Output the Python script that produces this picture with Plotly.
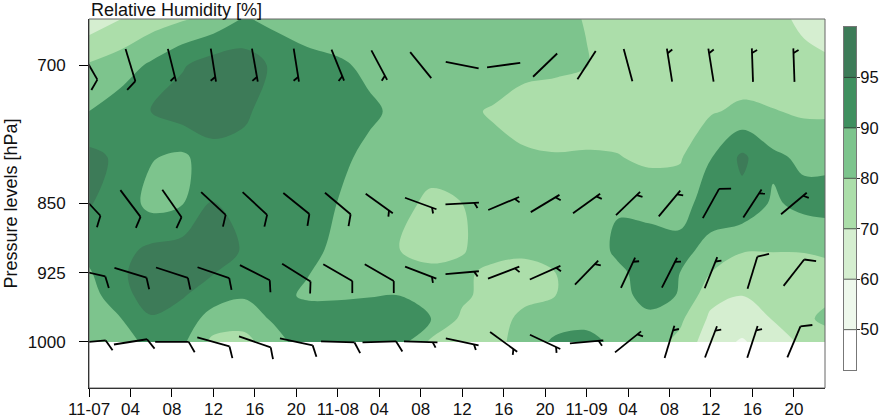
import numpy as np
import plotly.graph_objects as go

# ---------------- data ----------------
hours = list(range(0, 73, 3))                      # hours since 11-07 00:00
levels = [650, 700, 750, 800, 850, 900, 925, 950, 975, 1000]

rh_650 = [64, 69.8, 75, 79, 83, 90.5, 87, 84, 83, 83, 83, 83, 82, 82, 81.5, 81, 79.8, 76, 74, 74, 74, 73, 72, 68.5, 65]
rh_700 = [81, 85, 90.8, 94.5, 97.5, 97.5, 94, 92, 90.8, 88, 86, 85, 84, 83, 82, 81.5, 80.2, 78, 76, 75, 74, 74, 73, 72, 71]
rh_750 = [90, 92.5, 95.2, 97.5, 98, 95.5, 93.5, 93, 92.5, 90.8, 88, 85, 81, 79.5, 77, 76, 75, 75, 75.5, 77, 79, 82, 80.5, 78.5, 78.5]
rh_800 = [96.5, 94, 90.3, 88, 93, 94, 93.5, 93, 91, 88, 85, 83, 81, 81.5, 81, 80.5, 81, 80.5, 78, 79, 89.7, 96, 91, 88, 88]
rh_850 = [95.3, 93, 87, 89.5, 95.2, 93.5, 93.5, 93, 89.8, 86, 82, 78.5, 80, 83, 84, 84, 85, 89, 87, 86, 92.5, 93.5, 88.5, 91.5, 92]
rh_900 = [91.5, 93.5, 96, 97, 97.5, 94.5, 93.5, 92, 87, 84, 80, 77, 79.5, 83, 82, 83, 84, 91, 92, 91.5, 87, 81, 80.5, 80.5, 82]
rh_925 = [89, 94, 98, 97, 95.2, 93, 92.5, 90.3, 86, 84, 82.5, 82, 81.5, 78, 77, 80, 85, 88, 92, 90, 80, 74, 76, 77, 78]
rh_950 = [86, 93, 97.5, 95.5, 91.5, 90.5, 91.5, 88.5, 88.5, 89.5, 90, 89.5, 82, 76, 77, 80, 85, 87, 91.5, 89.5, 73, 70, 73.5, 77, 79]
rh_975 = [85, 89.5, 94.5, 92, 87, 84, 91, 93, 93, 93, 92, 90, 78, 75, 83, 85, 86, 86, 88, 82, 68, 65, 70.5, 78, 84]
rh_1000 = [84, 87, 91, 91, 77, 77, 86, 93, 93.5, 93.5, 92, 78, 74, 77, 84, 91, 92, 87, 84, 77.5, 64, 59, 65, 72, 75]

# contour levels (non-uniform) and colours
rh_levels = [40, 50, 60, 70, 80, 90, 95, 100]
cbar_labels = ["50", "60", "70", "80", "90", "95"]
band_colors = ["#ffffff", "#eef8ec", "#d5eed0", "#acdeaa", "#7dc48d", "#3f8f5f", "#3d7b58"]

# wind barbs (direction deg, speed kt) every 4 h
barb_hours = list(range(0, 69, 4))
barb_levels = [700, 850, 925, 1000]
dir_700 = [150, 163, 166, 171, 170, 171, 158, 152, 141, 101, 82, 46, 33, 165, 351, 351, 358, 358]
spd_700 = [10, 10, 5, 5, 5, 5, 5, 5, 2, 2, 2, 2, 2, 2, 5, 5, 5, 5]
dir_850 = [137, 143, 145, 133, 133, 129, 130, 126, 110, 87, 67, 59, 54, 46, 40, 29, 33, 50]
spd_850 = [10, 10, 10, 10, 10, 10, 10, 5, 5, 5, 5, 5, 5, 5, 5, 10, 5, 5]
dir_925 = [103, 107, 108, 109, 117, 122, 120, 120, 111, 85, 69, 66, 44, 25, 27, 22, 17, 38]
spd_925 = [10, 10, 10, 10, 10, 10, 10, 10, 5, 5, 5, 5, 5, 5, 5, 5, 10, 10]
dir_1000 = [85, 81, 90, 106, 109, 102, 92, 88, 92, 102, 126, 115, 85, 51, 17, 21, 18, 23]
spd_1000 = [10, 10, 10, 10, 10, 10, 10, 10, 5, 5, 5, 5, 5, 5, 5, 5, 5, 10]

tick_hours = list(range(0, 69, 4))
tick_text = ["11-07", "04", "08", "12", "16", "20", "11-08", "04", "08", "12", "16", "20",
             "11-09", "04", "08", "12", "16", "20"]
ytick_vals = [700, 850, 925, 1000]

# ---------------- layout geometry ----------------
W, H = 880, 418
ML, MR, MT, MB = 89, 20, 19, 30
PLOT_RIGHT = 825            # right edge of main plot, px
x_range = [0, 71]
y_range = [1050, 650]
paper_w = W - ML - MR
paper_h = H - MT - MB
plot_w = PLOT_RIGHT - ML
sx = plot_w / (x_range[1] - x_range[0])       # px per hour
sy = paper_h / (y_range[0] - y_range[1])      # px per hPa

# colorbar box (px)
CB_X0, CB_X1, CB_TOP, CB_BOT = 844, 856, 27, 370
CB_RANGE = [0.2, 7]

FONT = "Liberation Sans, Arial, Helvetica, sans-serif"
TXT = "#111111"

# ---------------- contour ----------------
rh = np.array([rh_650, rh_700, rh_750, rh_800, rh_850, rh_900, rh_925, rh_950, rh_975, rh_1000], float)
u = np.interp(rh, rh_levels, np.arange(len(rh_levels)))   # band-index space
nb = len(band_colors)
colorscale = [[i / (nb - 1), c] for i, c in enumerate(band_colors)]

contour = go.Contour(
    x=hours, y=levels, z=u,
    contours=dict(start=1, end=nb - 1, size=1, coloring="fill", showlines=False),
    colorscale=colorscale, showscale=False,
    line=dict(width=0, smoothing=1),
    hoverinfo="skip", xaxis="x", yaxis="y",
)

# colour bar drawn as a heatmap on its own axes
band_idx = list(range(nb))
band_edges = [CB_RANGE[0]] + list(range(1, nb + 1))
cbar = go.Heatmap(
    z=[[i] for i in band_idx], x=[0, 1], y=band_edges,
    colorscale=colorscale, zmin=0, zmax=nb - 1, showscale=False,
    hoverinfo="skip", xaxis="x2", yaxis="y2",
)

# ---------------- wind barbs ----------------
SHAFT = 16.75   # half shaft length, px
FULL = 12.0
HALF = 6.0
SPACE = 4.7


def barb_xy(t, p, d, s):
    ux, uy = np.sin(np.radians(d)), -np.cos(np.radians(d))   # screen, y down
    a = np.radians(60)
    fx, fy = ux * np.cos(a) - uy * np.sin(a), ux * np.sin(a) + uy * np.cos(a)
    segs = [[(-SHAFT * ux, -SHAFT * uy), (SHAFT * ux, SHAFT * uy)]]
    nfull = int(s // 10)
    nhalf = 1 if (s % 10) >= 5 else 0
    pos = 0
    for _ in range(nfull):
        bx, by = (SHAFT - pos * SPACE) * ux, (SHAFT - pos * SPACE) * uy
        segs.append([(bx, by), (bx + FULL * fx, by + FULL * fy)])
        pos += 1
    if nhalf:
        if nfull == 0:
            pos = 1
        bx, by = (SHAFT - pos * SPACE) * ux, (SHAFT - pos * SPACE) * uy
        segs.append([(bx, by), (bx + HALF * fx, by + HALF * fy)])
    xs, ys = [], []
    for seg in segs:
        for (dx, dy) in seg:
            xs.append(t + dx / sx)
            ys.append(p + dy / sy)
        xs.append(None)
        ys.append(None)
    return xs, ys


bx_all, by_all = [], []
for lev, dirs, spds in [(700, dir_700, spd_700), (850, dir_850, spd_850),
                        (925, dir_925, spd_925), (1000, dir_1000, spd_1000)]:
    for t, d, s in zip(barb_hours, dirs, spds):
        xs, ys = barb_xy(t, lev, d, s)
        bx_all += xs
        by_all += ys

barbs = go.Scatter(x=bx_all, y=by_all, mode="lines",
                   line=dict(color="black", width=1.8),
                   hoverinfo="skip", showlegend=False, xaxis="x", yaxis="y")

fig = go.Figure([contour, barbs, cbar])

sep_shapes = [dict(type="line", xref="x2 domain", yref="y2", x0=0, x1=1, y0=v, y1=v,
                   line=dict(color="rgba(40,40,40,0.75)", width=1), layer="above")
              for v in range(1, nb)]

fig.update_layout(
    width=W, height=H,
    margin=dict(l=ML, r=MR, t=MT, b=MB, autoexpand=False),
    paper_bgcolor="white", plot_bgcolor="white",
    font=dict(family=FONT, size=17, color=TXT),
    showlegend=False,
    xaxis=dict(domain=[0, plot_w / paper_w], range=x_range,
               tickvals=tick_hours, ticktext=tick_text,
               ticks="outside", ticklen=8, tickcolor="black", tickwidth=1,
               ticklabelstandoff=-2,
               showline=True, linecolor="black", linewidth=1,
               showgrid=False, zeroline=False, automargin=False,
               tickfont=dict(family=FONT, size=17, color=TXT)),
    yaxis=dict(range=y_range, tickvals=ytick_vals,
               ticks="outside", ticklen=9, tickcolor="black", tickwidth=1,
               showline=True, linecolor="black", linewidth=1,
               showgrid=False, zeroline=False, automargin=False,
               ticklabelstandoff=10,
               tickfont=dict(family=FONT, size=17, color=TXT)),
    xaxis2=dict(domain=[(CB_X0 - ML) / paper_w, (CB_X1 - ML) / paper_w], range=[0, 1],
                anchor="y2", showticklabels=False, ticks="", showgrid=False, zeroline=False,
                showline=True, mirror=True, linecolor="#777777", linewidth=1,
                automargin=False, fixedrange=True),
    yaxis2=dict(domain=[(MT + paper_h - CB_BOT) / paper_h, (MT + paper_h - CB_TOP) / paper_h],
                range=CB_RANGE, anchor="x2", side="right",
                tickvals=list(range(1, nb)), ticktext=cbar_labels,
                ticks="outside", ticklen=3, tickcolor="#333333", ticklabelstandoff=-3,
                showgrid=False, zeroline=False,
                showline=True, mirror=True, linecolor="#777777", linewidth=1,
                automargin=False, fixedrange=True,
                tickfont=dict(family=FONT, size=16.5, color=TXT)),
    shapes=[dict(type="rect", xref="x domain", yref="y domain", x0=0, x1=1, y0=0, y1=1,
                 line=dict(color="#666666", width=1), layer="above")] + sep_shapes,
    annotations=[
        dict(text="Relative Humidity [%]", xref="x domain", yref="y domain", x=0, y=1,
             xanchor="left", yanchor="bottom", showarrow=False, yshift=-3,
             font=dict(family=FONT, size=18, color=TXT)),
        dict(text="Pressure levels [hPa]", xref="x domain", yref="y domain",
             x=(10 - ML) / plot_w, y=0.5, xanchor="center", yanchor="middle",
             textangle=-90, showarrow=False,
             font=dict(family=FONT, size=18, color=TXT)),
    ],
)

fig.write_html("out.html", config={"displayModeBar": False, "staticPlot": True},
               post_script="document.body.style.margin='0px';")
